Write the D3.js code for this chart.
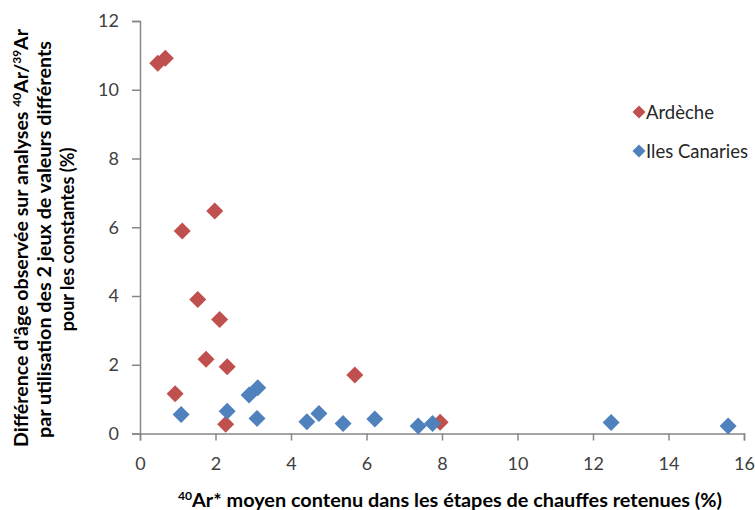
<!DOCTYPE html>
<html><head><meta charset="utf-8">
<script src="https://cdn.jsdelivr.net/npm/d3@7"></script>
<style>body{margin:0;background:#fff}svg{display:block}</style>
</head><body>
<svg id="c" width="755" height="510"></svg>
<script>
const seriesNames = ["Ardèche", "Iles Canaries"];
const seriesColors = ["#C0504D", "#4F81BD"];
const ardecheX = [0.47, 0.67, 1.12, 1.98, 1.53, 2.11, 1.75, 2.31, 0.93, 2.27, 5.69, 7.95];
const ardecheY = [10.77, 10.92, 5.89, 6.47, 3.90, 3.32, 2.16, 1.94, 1.16, 0.27, 1.70, 0.33];
const canariesX = [1.09, 2.31, 2.89, 3.12, 3.10, 4.42, 4.74, 5.38, 6.22, 7.37, 7.75, 12.48, 15.58];
const canariesY = [0.55, 0.65, 1.12, 1.33, 0.44, 0.34, 0.58, 0.29, 0.42, 0.22, 0.29, 0.32, 0.22];
const xTicks = [0, 2, 4, 6, 8, 10, 12, 14, 16];
const yTicks = [0, 2, 4, 6, 8, 10, 12];

const svg = d3.select("#c");
const font = "Lato, 'Open Sans', sans-serif";
const x = d3.scaleLinear().domain([0, 16]).range([140, 744]);
const y = d3.scaleLinear().domain([0, 12]).range([433.5, 21]);
const axisColor = "#878787";

const gx = svg.append("g").attr("transform", `translate(0,${y(0)})`)
  .call(d3.axisBottom(x).tickValues(xTicks).tickSize(7).tickPadding(17).tickFormat(d3.format("d")));
const gy = svg.append("g").attr("transform", `translate(${x(0)},0)`)
  .call(d3.axisLeft(y).tickValues(yTicks).tickSize(8).tickPadding(13).tickFormat(d3.format("d")));
[gx, gy].forEach(g => {
  g.select(".domain").attr("stroke", axisColor).attr("stroke-width", 1.5);
  g.selectAll(".tick line").attr("stroke", axisColor).attr("stroke-width", 1.5);
  g.selectAll(".tick text").attr("fill", "#404040").style("font-family", font).style("font-size", "18px");
});

const diamond = r => `M0,${-r}L${r},0L0,${r}L${-r},0Z`;
const sets = [
  {xs: ardecheX, ys: ardecheY, c: seriesColors[0]},
  {xs: canariesX, ys: canariesY, c: seriesColors[1]}
];
sets.forEach(s => {
  svg.append("g").selectAll("path").data(s.xs.map((v, i) => [v, s.ys[i]])).join("path")
    .attr("d", diamond(8.5))
    .attr("transform", d => `translate(${x(d[0])},${y(d[1])})`)
    .attr("fill", s.c);
});

// legend
const lg = svg.append("g");
seriesNames.forEach((n, i) => {
  const yy = 112 + i * 39;
  lg.append("path").attr("d", diamond(6.5)).attr("transform", `translate(639,${yy})`).attr("fill", seriesColors[i]);
  lg.append("text").attr("x", 646).attr("y", yy + 6.5).text(n)
    .style("font-family", font).style("font-size", "18.5px").attr("fill", "#262626");
});

// x title
const xt = svg.append("text").attr("x", 450).attr("y", 507).attr("text-anchor", "middle")
  .attr("textLength", 544).attr("lengthAdjust", "spacingAndGlyphs")
  .style("font-family", font).style("font-size", "18px").style("font-weight", "bold").attr("fill", "#000");
xt.append("tspan").text("40").style("font-size", "11px").attr("dy", -7);
xt.append("tspan").text("Ar* moyen contenu dans les étapes de chauffes retenues (%)").attr("dy", 7);

// y title
const yt = svg.append("g").attr("transform", "translate(0,238) rotate(-90)");
const l1 = yt.append("text").attr("x", 0).attr("y", 28).attr("text-anchor", "middle")
  .attr("textLength", 418).attr("lengthAdjust", "spacingAndGlyphs")
  .style("font-family", font).style("font-size", "18px").style("font-weight", "bold");
l1.append("tspan").text("Différence d'âge observée sur analyses ");
l1.append("tspan").text("40").style("font-size", "11px").attr("dy", -7);
l1.append("tspan").text("Ar/").attr("dy", 7);
l1.append("tspan").text("39").style("font-size", "11px").attr("dy", -7);
l1.append("tspan").text("Ar").attr("dy", 7);
yt.append("text").attr("x", -1.5).attr("y", 51).attr("text-anchor", "middle")
  .attr("textLength", 397).attr("lengthAdjust", "spacingAndGlyphs")
  .style("font-family", font).style("font-size", "18px").style("font-weight", "bold")
  .text("par utilisation des 2 jeux de valeurs différents");
yt.append("text").attr("x", -1.5).attr("y", 74).attr("text-anchor", "middle")
  .style("font-family", font).style("font-size", "18px").style("font-weight", "bold")
  .text("pour les constantes (%)");
</script>
</body></html>
